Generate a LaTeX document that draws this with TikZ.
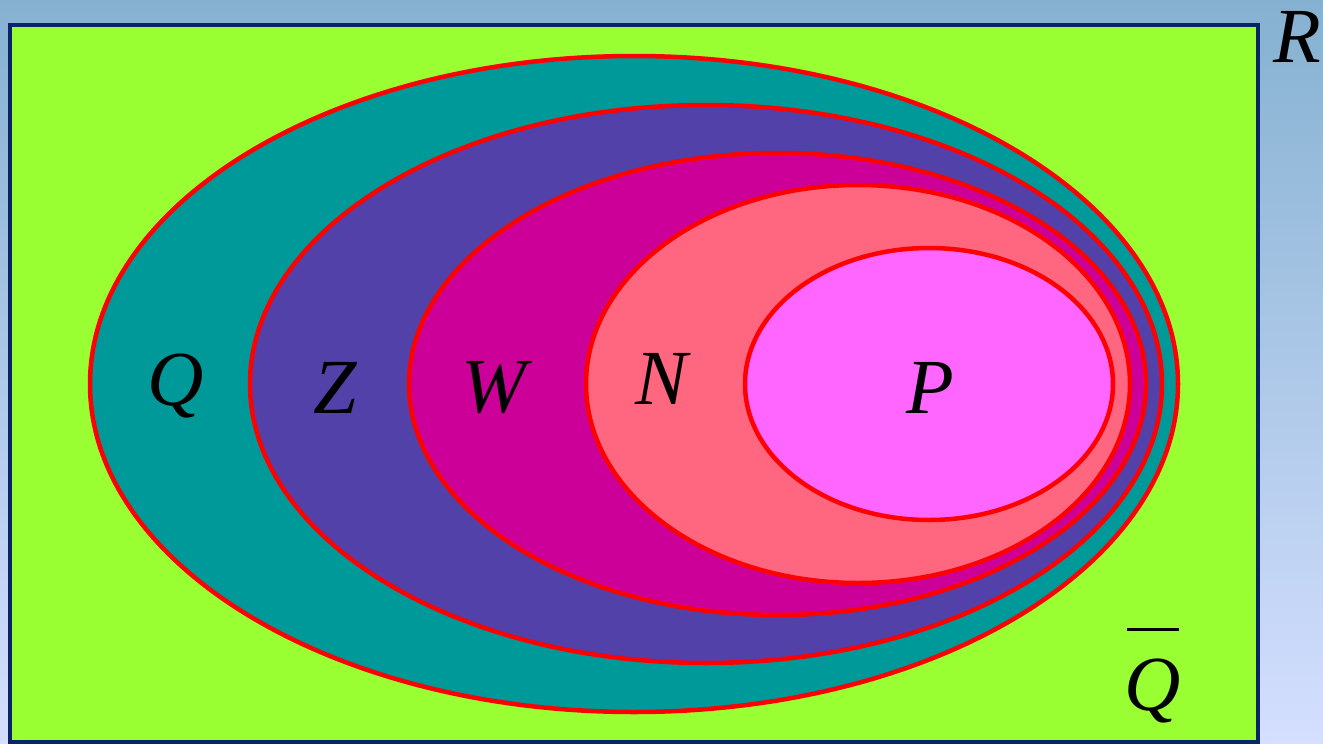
\documentclass[tikz,border=0pt]{standalone}
\usepackage{fontspec}
\newfontfamily\lblfont{Liberation Serif Italic}
\begin{document}
\begin{tikzpicture}[x=1pt,y=-1pt,
  lbl/.style={font=\fontsize{78}{78}\selectfont\lblfont, inner sep=0pt, anchor=base},
  ring/.style={draw=red, line width=4.5pt}]
\definecolor{bgtop}{HTML}{85B1D1}
\definecolor{bgbot}{HTML}{D5DFFF}
\definecolor{cgreen}{HTML}{99FF33}
\definecolor{cteal}{HTML}{009999}
\definecolor{cpurple}{HTML}{5241A8}
\definecolor{cmag}{HTML}{CC0099}
\definecolor{csalmon}{HTML}{FF6680}
\definecolor{cpink}{HTML}{FF66FF}
\definecolor{cnavy}{HTML}{0A2466}
\useasboundingbox (0,0) rectangle (1323,744);
\shade[top color=bgtop, bottom color=bgbot] (0,0) rectangle (1323,744);
\draw[fill=cgreen, draw=cnavy, line width=4.5pt] (10,25) rectangle (1258,742);
\path[ring, fill=cteal] (634,384) ellipse [x radius=544, y radius=328];
\path[ring, fill=cpurple] (706,384) ellipse [x radius=456, y radius=279];
\path[ring, fill=cmag] (777.5,384) ellipse [x radius=368.5, y radius=231];
\path[ring, fill=csalmon] (858,384) ellipse [x radius=272, y radius=199];
\path[ring, fill=cpink] (929,384) ellipse [x radius=184, y radius=136];
\node[lbl] (q) at (176,405) {Q};
\node[lbl] (z) at (335,413) {Z};
\node[lbl] (w) at (494,412) {W};
\node[lbl] (n) at (662,404) {N};
\node[lbl] (p) at (930,413) {P};
\node[lbl] (r) at (1297,62) {R};
\node[lbl] (qb) at (1153,710) {Q};
\draw[line width=3pt] (qb.base) ++(-26,-81) -- ++(52,0);
\end{tikzpicture}
\end{document}
